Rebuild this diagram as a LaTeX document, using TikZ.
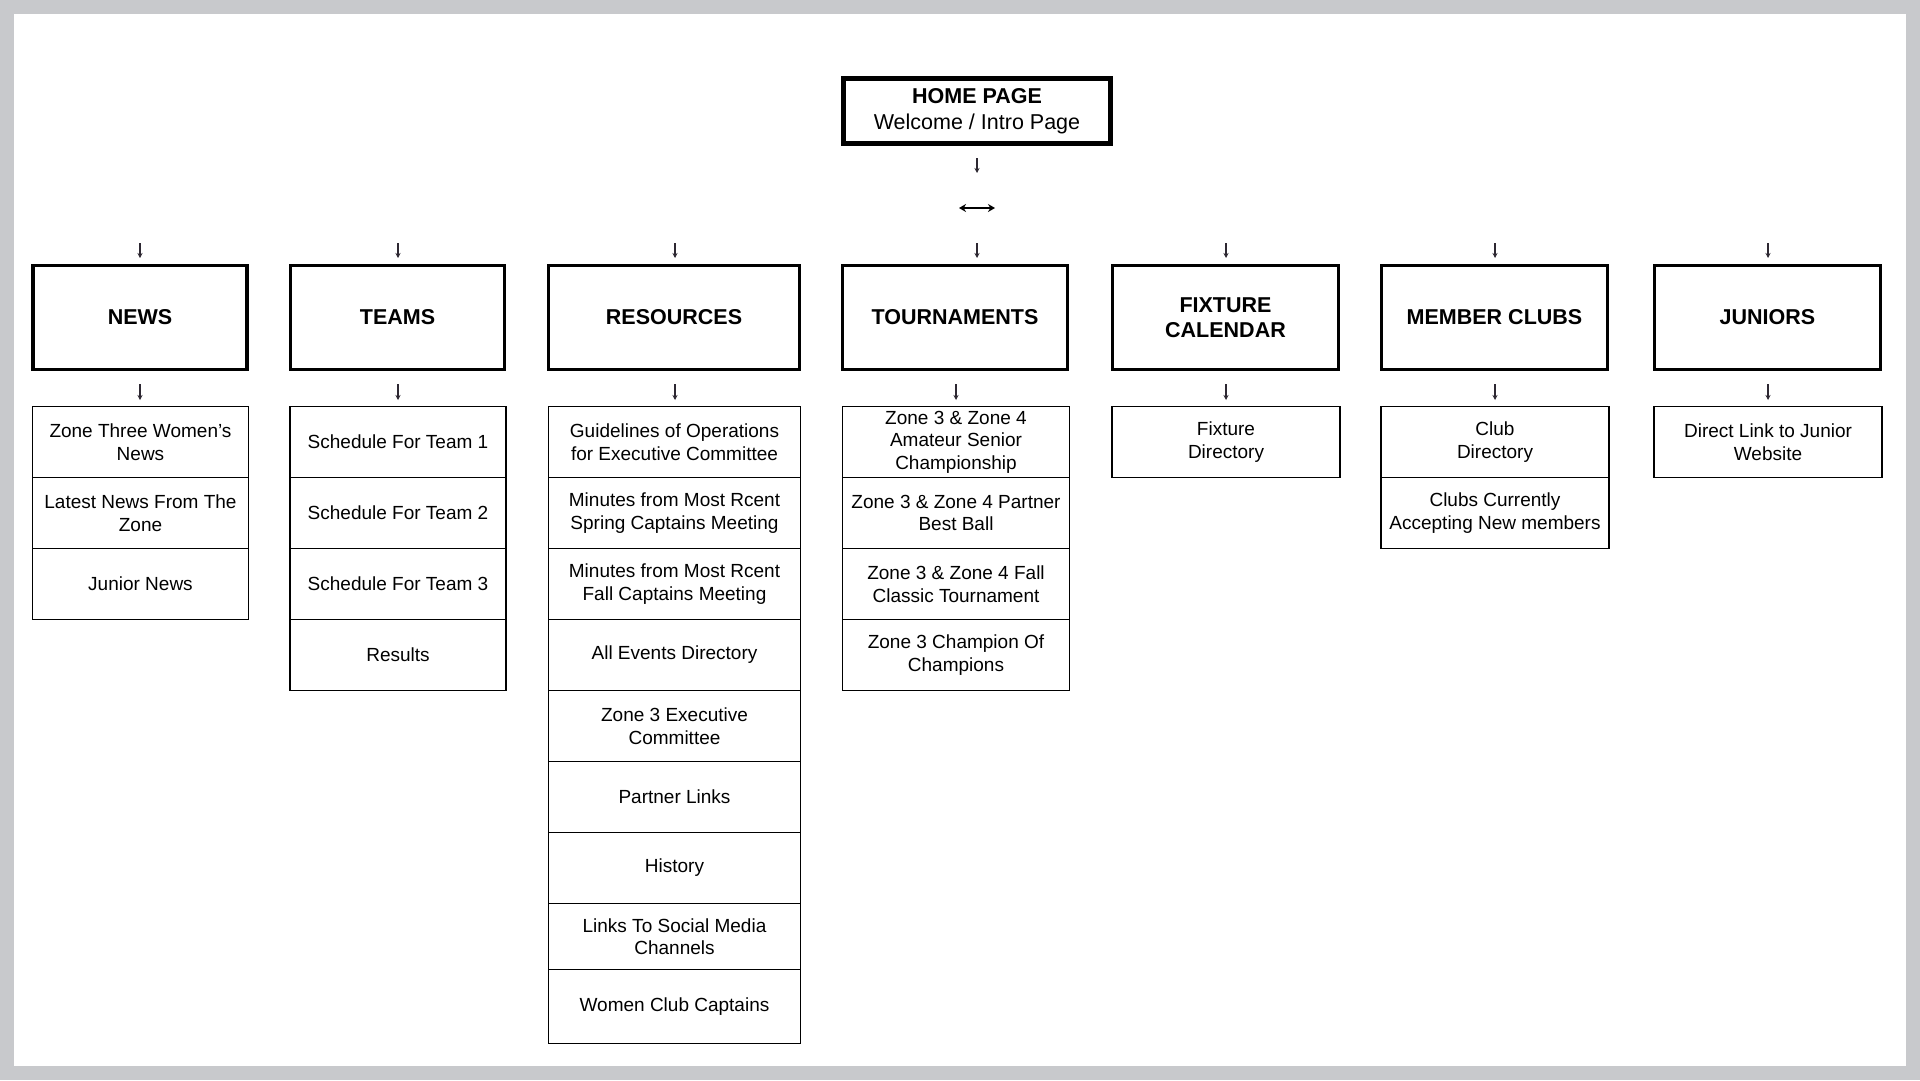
\documentclass[tikz,border=0pt]{standalone}
\usepackage{fontspec}
\setmainfont{Liberation Sans}
\usetikzlibrary{arrows.meta}
\definecolor{framegray}{RGB}{200,201,204}
\definecolor{arrowcol}{RGB}{45,40,50}
\tikzset{
  homebox/.style={draw=black, line width=5pt, fill=white, minimum width=267pt, minimum height=65pt, align=center, inner sep=0pt, font=\fontsize{21.5}{26}\selectfont},
  topbox/.style={draw=black, line width=3.5pt, fill=white, minimum height=104pt, align=center, inner sep=0pt, font=\fontsize{21.5}{25.5}\selectfont\bfseries},
  subbox/.style={draw=black, line width=1.8pt, fill=white, align=center, inner sep=0pt, font=\fontsize{19}{22.5}\selectfont},
  smallarrow/.style={draw=arrowcol, line width=1.2pt, -{Stealth[length=5pt,width=5pt]}},
  botharrow/.style={draw=black, line width=2pt, {Stealth[length=7pt,width=8pt]}-{Stealth[length=7pt,width=8pt]}}
}
\begin{document}
\begin{tikzpicture}[x=1pt,y=-1pt]
\fill[framegray] (0,0) rectangle (1920,1080);
\fill[white] (14,14) rectangle (1906,1066);
\useasboundingbox (0,0) rectangle (1920,1080);

% home
\node[homebox] (home) at (977,111) {\textbf{HOME PAGE}\\Welcome / Intro Page};
\coordinate (ha1) at (977,158); \coordinate (ha2) at (977,173);
\draw[smallarrow] (ha1) -- (ha2);
\coordinate (lr1) at (959,208); \coordinate (lr2) at (995,208);
\draw[botharrow] (lr1) -- (lr2);

% top level
\node[topbox, minimum width=214pt] (news) at (140,317.5) {NEWS};
\node[topbox, minimum width=214pt] (teams) at (397.5,317.5) {TEAMS};
\node[topbox, minimum width=251pt] (res) at (674,317.5) {RESOURCES};
\node[topbox, minimum width=225pt] (tour) at (955,317.5) {TOURNAMENTS};
\node[topbox, minimum width=226pt] (fix) at (1225.5,317.5) {FIXTURE\\CALENDAR};
\node[topbox, minimum width=226pt] (mem) at (1494.5,317.5) {MEMBER CLUBS};
\node[topbox, minimum width=226pt] (jun) at (1767.5,317.5) {JUNIORS};

% arrows above top level
\foreach \n/\x in {news/140, teams/398, res/675, tour/977, fix/1226, mem/1495, jun/1768}{
  \coordinate (\n-ta) at (\x,243); \coordinate (\n-tb) at (\x,258);
  \draw[smallarrow] (\n-ta) -- (\n-tb);
}
% arrows below top level
\foreach \n/\x in {news/140, teams/398, res/675, tour/956, fix/1226, mem/1495, jun/1768}{
  \coordinate (\n-ba) at (\x,384); \coordinate (\n-bb) at (\x,400);
  \draw[smallarrow] (\n-ba) -- (\n-bb);
}

% NEWS column
\node[subbox, minimum width=216pt, minimum height=71pt] (news1) at (140.5,442) {Zone Three Women's\\News};
\node[subbox, minimum width=216pt, minimum height=71pt] (news2) at (140.5,513) {Latest News From The\\Zone};
\node[subbox, minimum width=216pt, minimum height=71pt] (news3) at (140.5,584) {Junior News};

% TEAMS column
\node[subbox, minimum width=216pt, minimum height=71pt] (teams1) at (398,442) {Schedule For Team 1};
\node[subbox, minimum width=216pt, minimum height=71pt] (teams2) at (398,513) {Schedule For Team 2};
\node[subbox, minimum width=216pt, minimum height=71pt] (teams3) at (398,584) {Schedule For Team 3};
\node[subbox, minimum width=216pt, minimum height=71pt] (teams4) at (398,655) {Results};

% RESOURCES column
\node[subbox, minimum width=252pt, minimum height=71pt] (res1) at (674.5,442) {Guidelines of Operations\\for Executive Committee};
\node[subbox, minimum width=252pt, minimum height=71pt] (res2) at (674.5,513) {Minutes from Most Rcent\\Spring Captains Meeting};
\node[subbox, minimum width=252pt, minimum height=71pt] (res3) at (674.5,584) {Minutes from Most Rcent\\Fall Captains Meeting};
\node[subbox, minimum width=252pt, minimum height=71pt] (res4) at (674.5,655) {All Events Directory};
\node[subbox, minimum width=252pt, minimum height=71pt] (res5) at (674.5,726) {Zone 3 Executive\\Committee};
\node[subbox, minimum width=252pt, minimum height=71pt] (res6) at (674.5,797) {Partner Links};
\node[subbox, minimum width=252pt, minimum height=71pt] (res7) at (674.5,868) {History};
\node[subbox, minimum width=252pt, minimum height=66pt] (res8) at (674.5,936.5) {Links To Social Media\\Channels};
\node[subbox, minimum width=252pt, minimum height=74pt] (res9) at (674.5,1006.5) {Women Club Captains};

% TOURNAMENTS column
\node[subbox, minimum width=227pt, minimum height=71pt] (tour1) at (956,442) {Zone 3 \& Zone 4\\Amateur Senior\\Championship};
\node[subbox, minimum width=227pt, minimum height=71pt] (tour2) at (956,513) {Zone 3 \& Zone 4 Partner\\Best Ball};
\node[subbox, minimum width=227pt, minimum height=71pt] (tour3) at (956,584) {Zone 3 \& Zone 4 Fall\\Classic Tournament};
\node[subbox, minimum width=227pt, minimum height=71pt] (tour4) at (956,655) {Zone 3 Champion Of\\Champions};

% FIXTURE column
\node[subbox, minimum width=228pt, minimum height=71pt] (fix1) at (1226,442) {Fixture\\Directory};

% MEMBER CLUBS column
\node[subbox, minimum width=228pt, minimum height=71pt] (mem1) at (1495,442) {Club\\Directory};
\node[subbox, minimum width=228pt, minimum height=71pt] (mem2) at (1495,513) {Clubs Currently\\Accepting New members};

% JUNIORS column
\node[subbox, minimum width=228pt, minimum height=71pt] (jun1) at (1768,442) {Direct Link to Junior\\Website};
\end{tikzpicture}
\end{document}
